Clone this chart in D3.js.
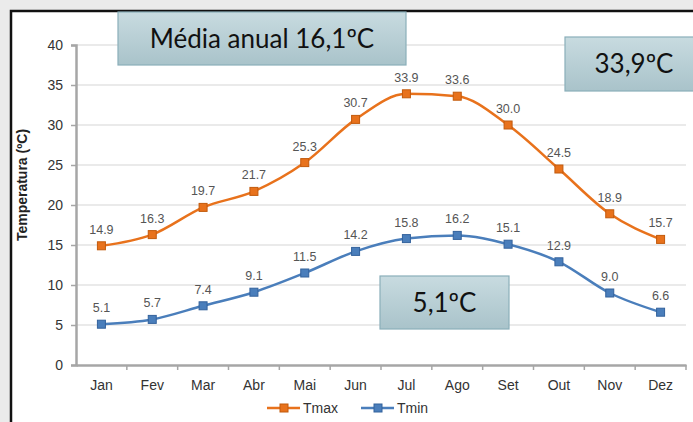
<!DOCTYPE html>
<html>
<head>
<meta charset="utf-8">
<script src="https://cdn.jsdelivr.net/npm/d3@7"></script>
<style>
  body { margin: 0; background: #ebebeb; }
  svg { display: block; }
  .tick text { font-family: "Liberation Sans", Arial, sans-serif; }
</style>
</head>
<body>
<script>
// data
var months = ["Jan", "Fev", "Mar", "Abr", "Mai", "Jun", "Jul", "Ago", "Set", "Out", "Nov", "Dez"];
var tmax = [14.9, 16.3, 19.7, 21.7, 25.3, 30.7, 33.9, 33.6, 30.0, 24.5, 18.9, 15.7];
var tmin = [5.1, 5.7, 7.4, 9.1, 11.5, 14.2, 15.8, 16.2, 15.1, 12.9, 9.0, 6.6];
var yTicks = [0, 5, 10, 15, 20, 25, 30, 35, 40];
var seriesNames = ["Tmax", "Tmin"];
var callouts = ["Média anual 16,1ºC", "33,9ºC", "5,1ºC"];

var W = 693, H = 422;
var margin = {top: 45, right: 7, bottom: 57, left: 76};

var svg = d3.select("body").append("svg")
  .attr("width", W)
  .attr("height", H);

// gradient for the text boxes
var grad = svg.append("defs").append("linearGradient")
  .attr("id", "boxfill")
  .attr("x1", 0).attr("y1", 0).attr("x2", 0).attr("y2", 1);
grad.append("stop").attr("offset", "0%").attr("stop-color", "#c8dbe0");
grad.append("stop").attr("offset", "100%").attr("stop-color", "#a9c3ca");

// slide frame
svg.append("rect").attr("x", 11).attr("y", 11).attr("width", W).attr("height", H)
  .attr("fill", "#fff").attr("stroke", "#111").attr("stroke-width", 2.5);

var x = d3.scaleBand().domain(months).range([margin.left, W - margin.right]);
var y = d3.scaleLinear().domain([0, 40]).range([H - margin.bottom, margin.top]);

var font = "'Liberation Sans', Arial, sans-serif";

// grid
svg.append("g").selectAll("line")
  .data(yTicks.slice(1))
  .join("line")
  .attr("x1", margin.left).attr("x2", W - margin.right)
  .attr("y1", d => y(d)).attr("y2", d => y(d))
  .attr("stroke", "#e3e3e3").attr("stroke-width", 1.5);

// y axis
var yAxis = svg.append("g")
  .attr("transform", "translate(" + margin.left + ",0)")
  .call(d3.axisLeft(y).tickValues(yTicks).tickSize(5).tickPadding(8));
yAxis.select(".domain").attr("stroke", "#a6a6a6").attr("stroke-width", 2.5);
yAxis.selectAll(".tick line").attr("stroke", "#a6a6a6").attr("stroke-width", 1.5);
yAxis.selectAll(".tick text").attr("fill", "#333").style("font-size", "14px");

// x axis
var xAxis = svg.append("g")
  .attr("transform", "translate(0," + y(0) + ")")
  .call(d3.axisBottom(x).tickSize(0).tickPadding(15));
xAxis.select(".domain").attr("stroke", "#a6a6a6").attr("stroke-width", 2.5);
xAxis.selectAll(".tick text").attr("fill", "#333").style("font-size", "14px");
svg.append("g").selectAll("line")
  .data(months)
  .join("line")
  .attr("x1", d => x(d) + x.bandwidth())
  .attr("x2", d => x(d) + x.bandwidth())
  .attr("y1", y(0)).attr("y2", y(0) + 5)
  .attr("stroke", "#a6a6a6").attr("stroke-width", 1.5);

// y title
svg.append("text")
  .attr("transform", "translate(27," + (y(22.5)) + ") rotate(-90)")
  .attr("text-anchor", "middle")
  .style("font-family", font).style("font-size", "14px").style("font-weight", "bold")
  .attr("fill", "#222")
  .text("Temperatura (ºC)");

var series = [
  {name: seriesNames[0], values: tmax, color: "#e8721c", dark: "#c25a0c"},
  {name: seriesNames[1], values: tmin, color: "#4a7ebb", dark: "#33629c"}
];

var cx = d => x(d) + x.bandwidth() / 2;
var line = d3.line()
  .x((d, i) => cx(months[i]))
  .y(d => y(d))
  .curve(d3.curveMonotoneX);

series.forEach(function(s) {
  svg.append("path")
    .datum(s.values)
    .attr("fill", "none")
    .attr("stroke", s.color)
    .attr("stroke-width", 2.5)
    .attr("d", line);
  svg.append("g").selectAll("rect")
    .data(s.values)
    .join("rect")
    .attr("x", (d, i) => cx(months[i]) - 4)
    .attr("y", d => y(d) - 4)
    .attr("width", 8).attr("height", 8)
    .attr("fill", s.color).attr("stroke", s.dark).attr("stroke-width", 1);
  svg.append("g").selectAll("text")
    .data(s.values)
    .join("text")
    .attr("x", (d, i) => cx(months[i]))
    .attr("y", d => y(d) - 12)
    .attr("text-anchor", "middle")
    .style("font-family", font).style("font-size", "12.5px")
    .attr("fill", "#555")
    .text(d => d.toFixed(1));
});

// legend
var legend = svg.append("g").attr("transform", "translate(267,408)");
series.forEach(function(s, i) {
  var g = legend.append("g").attr("transform", "translate(" + (i * 94) + ",0)");
  g.append("line").attr("x1", 0).attr("x2", 33).attr("y1", 0).attr("y2", 0)
    .attr("stroke", s.color).attr("stroke-width", 2.5);
  g.append("rect").attr("x", 13).attr("y", -4).attr("width", 8).attr("height", 8)
    .attr("fill", s.color).attr("stroke", s.dark);
  g.append("text").attr("x", 36).attr("y", 5)
    .style("font-family", font).style("font-size", "14px")
    .attr("fill", "#333")
    .text(s.name);
});

// callout boxes
var boxes = [
  {text: callouts[0], x: 118, y: 12, w: 288, h: 53},
  {text: callouts[1], x: 565, y: 37, w: 135, h: 54},
  {text: callouts[2], x: 380, y: 276, w: 129, h: 53}
];
var bg = svg.append("g").selectAll("g").data(boxes).join("g");
bg.append("rect")
  .attr("x", d => d.x).attr("y", d => d.y)
  .attr("width", d => d.w).attr("height", d => d.h)
  .attr("fill", "url(#boxfill)").attr("stroke", "#8aafb9").attr("stroke-width", 1.2);
bg.append("text")
  .attr("x", (d, i) => i == 1 ? 634 : d.x + d.w / 2)
  .attr("y", d => d.y + d.h / 2 + 9)
  .attr("text-anchor", "middle")
  .style("font-family", "Lato, 'Open Sans', sans-serif").style("font-size", "26px")
  .attr("fill", "#111")
  .text(d => d.text);
</script>
</body>
</html>
